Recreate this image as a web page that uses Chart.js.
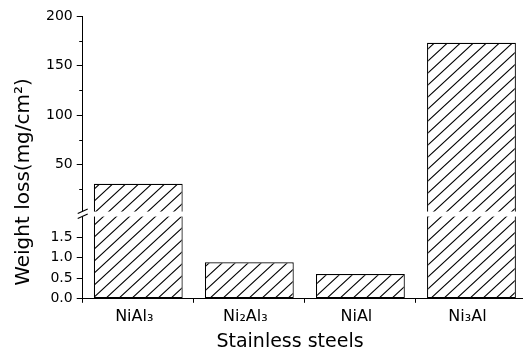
<!DOCTYPE html>
<html>
<head>
<meta charset="utf-8">
<script src="https://cdn.jsdelivr.net/npm/chart.js@4.4.1/dist/chart.umd.min.js"></script>
<style>
  html, body { margin: 0; padding: 0; background: #fff; overflow: hidden; }
  canvas { display: block; }
</style>
</head>
<body>
<canvas id="chartCanvas" width="527" height="355"></canvas>
<script>
// =========================
// Data
// =========================
const categories = ["NiAl\u2083", "Ni\u2082Al\u2083", "NiAl", "Ni\u2083Al"];
const weightLoss = [30.5, 0.89, 0.6, 173];

const upperTicks = [50, 100, 150, 200];
const upperMinorTicks = [25, 75, 125, 175];
const lowerTicks = [0, 0.5, 1.0, 1.5];

const lowerMax = 2.06;   // top of the lower (broken) segment
const upperMax = 200;

const yTitle = "Weight loss(mg/cm\u00B2)";
const xTitle = "Stainless steels";

// =========================
// Hatch fill
// =========================
function makeHatch() {
    const w = 13, h = 12;
    const c = document.createElement("canvas");
    c.width = w; c.height = h;
    const g = c.getContext("2d");
    g.fillStyle = "#fff";
    g.fillRect(0, 0, w, h);
    g.strokeStyle = "#000";
    g.lineWidth = 1.1;
    g.beginPath();
    g.moveTo(-w, 2 * h); g.lineTo(2 * w, -h);
    g.moveTo(-2 * w, 2 * h); g.lineTo(w, -h);
    g.moveTo(0, 2 * h); g.lineTo(3 * w, -h);
    g.stroke();
    return g.createPattern(c, "repeat");
}
const hatch = makeHatch();

// lower segment: clipped at the break, upper segment: only values above it
const lowerData = weightLoss.map(v => Math.min(v, lowerMax));
const upperData = weightLoss.map(v => v > lowerMax ? v : null);

// =========================
// Break, minor ticks and titles
// =========================
const brokenAxis = {
    id: "brokenAxis",
    afterDatasetsDraw(chart) {
        const ctx = chart.ctx;
        const area = chart.chartArea;
        const hi = chart.scales.yHigh;
        const yb = hi.bottom;
        const ax = area.left;

        ctx.save();
        // white gap
        ctx.fillStyle = "#fff";
        ctx.fillRect(ax - 8, yb - 2.5, area.right - ax + 10, 5);

        // break marks
        ctx.strokeStyle = "#000";
        ctx.lineWidth = 1.2;
        ctx.beginPath();
        ctx.moveTo(ax - 5, yb - 0.5); ctx.lineTo(ax + 5, yb - 5);
        ctx.moveTo(ax - 5, yb + 4.5); ctx.lineTo(ax + 5, yb);
        ctx.stroke();

        // minor ticks on the upper segment
        ctx.lineWidth = 1;
        ctx.beginPath();
        upperMinorTicks.forEach(v => {
            const y = Math.round(hi.getPixelForValue(v)) + 0.5;
            ctx.moveTo(ax - 3.5, y); ctx.lineTo(ax, y);
        });
        ctx.stroke();

        // axis titles
        ctx.fillStyle = "#000";
        ctx.textAlign = "center";
        ctx.textBaseline = "middle";
        ctx.font = "20px 'DejaVu Sans'";
        ctx.save();
        ctx.translate(24, 182);
        ctx.rotate(-Math.PI / 2);
        ctx.fillText(yTitle, 0, 0);
        ctx.restore();

        ctx.font = "19px 'DejaVu Sans'";
        ctx.fillText(xTitle, 290, 342);
        ctx.restore();
    }
};

// =========================
// Chart
// =========================
const tickFont = { family: "DejaVu Sans", size: 14 };

const barStyle = {
    backgroundColor: hatch,
    borderColor: "#000",
    borderWidth: 1.2,
    borderSkipped: false,
    barPercentage: 0.8,
    categoryPercentage: 1.0,
    grouped: false
};

new Chart(document.getElementById("chartCanvas").getContext("2d"), {
    type: "bar",
    data: {
        labels: categories,
        datasets: [
            Object.assign({ data: upperData, yAxisID: "yHigh" }, barStyle),
            Object.assign({ data: lowerData, yAxisID: "yLow" }, barStyle)
        ]
    },
    options: {
        responsive: false,
        animation: false,
        devicePixelRatio: 1,
        layout: { padding: { left: 42, right: 0, top: 16, bottom: 25 } },
        plugins: {
            legend: { display: false },
            tooltip: { enabled: false }
        },
        scales: {
            x: {
                grid: { drawOnChartArea: false, tickLength: 4, color: "#000", offset: true },
                border: { color: "#000", width: 1 },
                ticks: { color: "#000", font: { family: "DejaVu Sans", size: 16 }, padding: 4, labelOffset: -4 }
            },
            yLow: {
                type: "linear",
                position: "left",
                stack: "weight",
                stackWeight: 84.5,
                min: 0,
                max: lowerMax,
                afterBuildTicks: s => { s.ticks = lowerTicks.map(v => ({ value: v })); },
                grid: { drawOnChartArea: false, tickLength: 6, color: "#000" },
                border: { color: "#000", width: 1 },
                ticks: { color: "#000", font: tickFont, padding: 4, autoSkip: false, callback: v => Number(v).toFixed(1) }
            },
            yHigh: {
                type: "linear",
                position: "left",
                stack: "weight",
                stackWeight: 197.5,
                min: 0,
                max: upperMax,
                afterBuildTicks: s => { s.ticks = upperTicks.map(v => ({ value: v })); },
                grid: { drawOnChartArea: false, tickLength: 6, color: "#000" },
                border: { color: "#000", width: 1 },
                ticks: { color: "#000", font: tickFont, padding: 4, autoSkip: false }
            }
        }
    },
    plugins: [brokenAxis]
});
</script>
</body>
</html>
